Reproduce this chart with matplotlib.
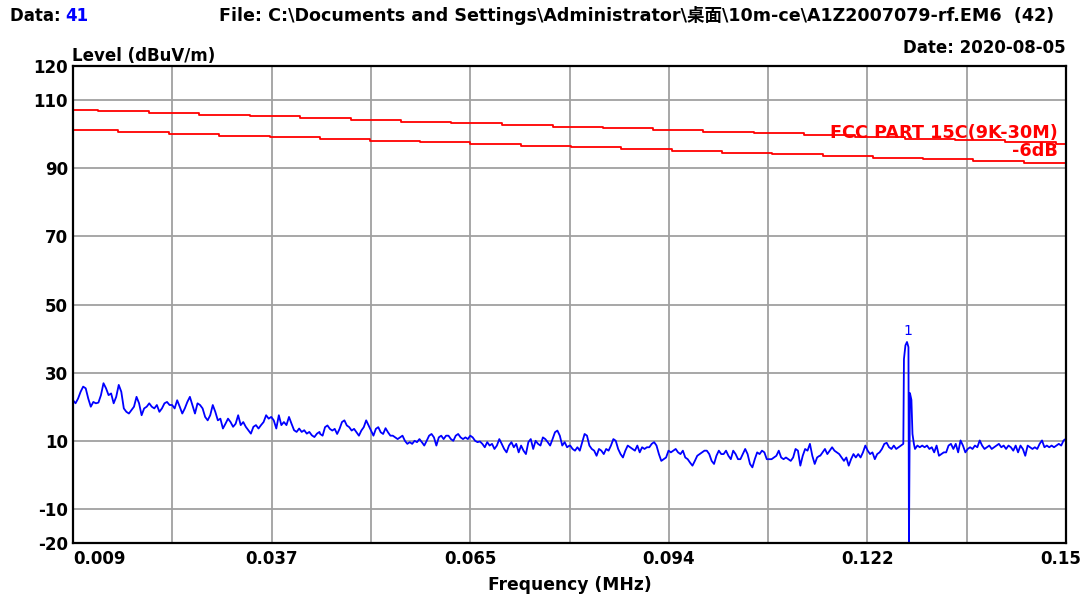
import numpy as np
import matplotlib
matplotlib.use("Agg")
import matplotlib.pyplot as plt
import matplotlib.transforms as mtransforms

# ---------------- data ----------------
# sweep sections (start MHz, end MHz) and levels in dBuV/m
sec1_range = (0.0090, 0.0440)
sec1_vals = [21.9, 21.0, 22.4, 24.4, 25.9, 25.4, 22.4, 20.0, 21.4, 21.0, 21.2, 23.4, 26.9, 25.4, 23.4,
             23.9, 21.0, 22.9, 26.4, 24.4, 19.5, 18.5, 18.0, 19.0, 20.0, 22.9, 21.0, 17.5, 19.5, 20.0,
             21.0, 20.0, 19.5, 20.5, 18.5, 19.5, 21.0, 21.4, 20.5, 20.5, 19.5, 21.9, 20.0, 18.0, 19.5,
             21.4, 22.9, 20.5, 18.0, 21.0, 20.5, 19.5, 17.0, 16.0, 17.5, 20.5, 18.5, 16.0, 16.5, 13.6,
             15.0, 16.5, 15.5, 14.1, 15.0, 17.5, 14.6, 15.5, 14.1, 13.1, 12.1, 14.1, 14.6, 13.6, 14.6,
             15.5, 17.5, 16.5, 17.0, 16.0, 13.6, 17.5, 14.6, 15.5, 14.6, 17.0, 15.0, 13.1, 12.6, 13.6,
             12.6, 13.1, 12.1, 12.6, 11.6, 11.1, 12.1, 12.6]
sec2_range = (0.0441, 0.0795)
sec2_vals = [12.0, 11.5, 14.0, 14.5, 13.5, 13.0, 13.5, 12.0, 13.5, 15.5, 16.0, 14.5, 14.0, 13.0, 13.5,
             12.5, 11.5, 13.0, 14.0, 16.0, 14.5, 13.0, 11.5, 13.5, 14.0, 12.5, 12.0, 13.7, 12.5, 11.5,
             11.5, 11.0, 10.5, 11.0, 11.5, 10.0, 9.1, 9.6, 9.1, 10.0, 9.6, 10.5, 9.6, 8.6, 10.0,
             11.5, 12.0, 11.0, 8.6, 11.0, 11.5, 10.5, 11.5, 11.5, 10.5, 10.0, 11.5, 12.0, 11.0, 10.5,
             11.0, 10.5, 11.5, 11.0, 10.0, 9.6, 9.8, 9.1, 8.1, 9.6, 8.6, 9.1, 7.6, 8.6, 10.5,
             9.1, 7.6, 6.6, 8.6, 9.6, 8.1, 9.1, 6.6, 8.6, 7.1, 6.1, 9.6, 10.5, 7.6, 10.0,
             9.1, 8.6, 11.0, 10.5, 9.6, 8.6, 10.5, 12.5, 13.0, 11.5, 8.6, 9.6, 8.1, 8.6]
sec3_range = (0.0796, 0.1150)
sec3_vals = [8.6, 7.6, 7.1, 8.1, 7.1, 9.6, 12.0, 11.5, 8.6, 7.6, 7.1, 5.6, 7.6, 7.1, 6.1,
             7.6, 7.1, 8.6, 10.5, 10.0, 7.6, 6.1, 5.1, 7.1, 8.6, 8.1, 7.6, 7.1, 8.6, 6.6,
             8.1, 7.6, 8.1, 8.1, 9.1, 9.6, 8.6, 6.1, 4.1, 4.6, 5.1, 7.1, 6.6, 7.1, 7.6,
             6.6, 6.1, 7.1, 5.1, 4.6, 3.6, 2.7, 4.1, 5.6, 6.1, 6.6, 7.1, 7.1, 6.1, 4.1,
             3.2, 5.6, 7.1, 6.1, 6.1, 7.1, 5.6, 4.6, 7.1, 6.1, 4.6, 4.6, 6.1, 7.6, 6.1,
             3.2, 2.2, 4.6, 6.6, 6.1, 7.1, 6.6, 4.6, 4.6, 4.6, 5.1, 5.6, 7.1, 5.1, 4.6,
             5.1, 4.6, 4.1, 5.1, 7.6, 7.1, 2.7, 5.6, 7.6, 7.1, 9.1, 5.6, 3.2, 5.1, 5.6]
sec4_range = (0.1151, 0.1269)
sec4_vals = [5.6, 6.6, 7.6, 6.1, 7.1, 8.1, 7.1, 6.6, 6.1, 5.1, 4.1, 5.1, 2.7, 4.6, 6.1,
             5.1, 6.1, 5.1, 6.6, 8.6, 7.1, 6.1, 6.6, 4.6, 6.1, 6.6, 7.6, 9.1, 9.4, 8.1,
             7.6, 8.6, 7.6, 8.1, 8.6, 9.1]
spike_freq = [0.12699, 0.12720, 0.12742, 0.12763, 0.12770, 0.12784, 0.12805, 0.12820, 0.12841]
spike_vals = [34.0, 38.0, 39.0, 37.5, -20.0, 24.0, 22.0, 12.0, 9.0]
sec5_range = (0.12856, 0.1500)
sec5_vals = [7.6, 8.6, 8.1, 8.6, 8.1, 8.6, 7.6, 8.1, 6.6, 8.6, 5.6, 6.1, 6.6, 6.6, 8.6,
             9.1, 7.6, 9.1, 6.6, 10.1, 8.6, 6.6, 7.6, 8.1, 7.6, 8.6, 8.1, 10.1, 8.6, 7.6,
             8.1, 8.6, 7.6, 8.1, 8.6, 9.1, 8.1, 8.6, 7.6, 8.6, 8.1, 7.1, 8.6, 6.6, 8.6,
             7.6, 5.6, 8.6, 8.1, 7.6, 8.1, 7.6, 9.1, 10.1, 8.1, 8.6, 8.1, 8.6, 8.1, 8.6,
             9.1, 8.6, 10.1, 10.6]

# limit line (FCC PART 15C) steps: start frequency of each step, level
limit_freq = [0.00900, 0.01255, 0.01979, 0.02689, 0.03413, 0.04123, 0.04847, 0.05557, 0.06267,
              0.06991, 0.07716, 0.08425, 0.09135, 0.09845, 0.10570, 0.11279, 0.12004, 0.12714,
              0.13424, 0.14133, 0.14858]
limit_vals = [107.2, 106.7, 106.2, 105.7, 105.2, 104.7, 104.2, 103.7, 103.2, 102.7, 102.2,
              101.7, 101.2, 100.7, 100.2, 99.7, 99.2, 98.7, 98.2, 97.7, 97.2]
# -6 dB margin line steps
margin_freq = [0.00900, 0.01539, 0.02263, 0.02973, 0.03697, 0.04407, 0.05117, 0.05827, 0.06537,
               0.07261, 0.07971, 0.08681, 0.09405, 0.10115, 0.10825, 0.11549, 0.12259, 0.12969,
               0.13679, 0.14403]
margin_vals = [101.1, 100.6, 100.1, 99.6, 99.1, 98.6, 98.1, 97.6, 97.1, 96.6, 96.1, 95.6,
               95.1, 94.6, 94.1, 93.6, 93.1, 92.6, 92.1, 91.6]

x_min, x_max = 0.009, 0.15
y_min, y_max = -20, 120
x_tick_labels = ['0.009', '0.037', '0.065', '0.094', '0.122', '0.15']
y_ticks = [120, 110, 90, 70, 50, 30, 10, -10, -20]
marker_freq, marker_level, marker_label = 0.1276, 42.3, '1'

# ---------------- build arrays ----------------
def section(rng, vals):
    return np.linspace(rng[0], rng[1], len(vals)), np.array(vals)

parts = [section(sec1_range, sec1_vals), section(sec2_range, sec2_vals),
         section(sec3_range, sec3_vals), section(sec4_range, sec4_vals),
         (np.array(spike_freq), np.array(spike_vals)), section(sec5_range, sec5_vals)]
freq = np.concatenate([p[0] for p in parts])
level = np.concatenate([p[1] for p in parts])

lim_f = np.append(limit_freq, x_max)
lim_v = np.append(limit_vals, limit_vals[-1])
mar_f = np.append(margin_freq, x_max)
mar_v = np.append(margin_vals, margin_vals[-1])

# ---------------- figure ----------------
plt.rcParams['font.family'] = ['DejaVu Sans', 'Noto Sans CJK SC']
W, H = 1085, 599
fig = plt.figure(figsize=(W / 100, H / 100), dpi=100)
fig.patch.set_facecolor('white')
ax = fig.add_axes([73 / W, 56 / H, 993 / W, 477 / H])

grid_col = '#a0a0a0'
x_major = np.linspace(x_min, x_max, len(x_tick_labels))
x_minor = np.linspace(x_min, x_max, 2 * len(x_tick_labels) - 1)
for xv in x_minor[1:-1]:
    ax.axvline(xv, color=grid_col, lw=1.3, zorder=1)
for yv in y_ticks[1:-1]:
    ax.axhline(yv, color=grid_col, lw=1.3, zorder=1)

ax.plot(lim_f, lim_v, drawstyle='steps-post', color='#ff0000', lw=1.3, zorder=3)
ax.plot(mar_f, mar_v, drawstyle='steps-post', color='#ff0000', lw=1.3, zorder=3)
ax.plot(freq, level, color='#0000ff', lw=1.3, zorder=4)

ax.text(marker_freq, marker_level, marker_label, color='#0000ff', fontsize=10,
        ha='center', va='center', zorder=5)

ax.set_xlim(x_min, x_max)
ax.set_ylim(y_min, y_max)
ax.set_xticks(x_major)
ax.set_xticklabels(x_tick_labels)
ax.set_yticks(y_ticks)
ax.set_yticklabels([str(v) for v in y_ticks])
ax.tick_params(axis='both', length=0, labelsize=12, colors='black')
ax.tick_params(axis='y', pad=3.5)
ax.tick_params(axis='x', pad=5)
for lab in ax.get_xticklabels() + ax.get_yticklabels():
    lab.set_fontweight('bold')
xl = ax.get_xticklabels()
xl[0].set_horizontalalignment('left')
xl[-1].set_transform(xl[-1].get_transform() +
                     mtransforms.ScaledTranslation(-5 / 100, 0, fig.dpi_scale_trans))
for sp in ax.spines.values():
    sp.set_color('black')
    sp.set_linewidth(1.6)
    sp.set_zorder(6)

ax.set_xlabel('Frequency (MHz)', fontsize=12.3, fontweight='bold', labelpad=6)

def ftext(x, y, s, **kw):
    kw.setdefault('fontsize', 12)
    kw.setdefault('fontweight', 'bold')
    kw.setdefault('va', 'baseline')
    fig.text(x / W, 1 - y / H, s, **kw)

ftext(10, 21, 'Data: ')
ftext(65, 21, '41', color='#0000ff')
ftext(219, 21, 'File: C:\\Documents and Settings\\Administrator\\桌面\\10m-ce\\A1Z2007079-rf.EM6  (42)',
      fontsize=12.6)
ftext(1066, 53, 'Date: 2020-08-05', ha='right')
ftext(72, 61, 'Level (dBuV/m)')
ftext(1058, 138, 'FCC PART 15C(9K-30M)', ha='right', color='#ff0000', fontsize=12.7)
ftext(1058, 156, '-6dB', ha='right', color='#ff0000', fontsize=12.7)

fig.savefig('out.png', dpi=100, facecolor='white')
